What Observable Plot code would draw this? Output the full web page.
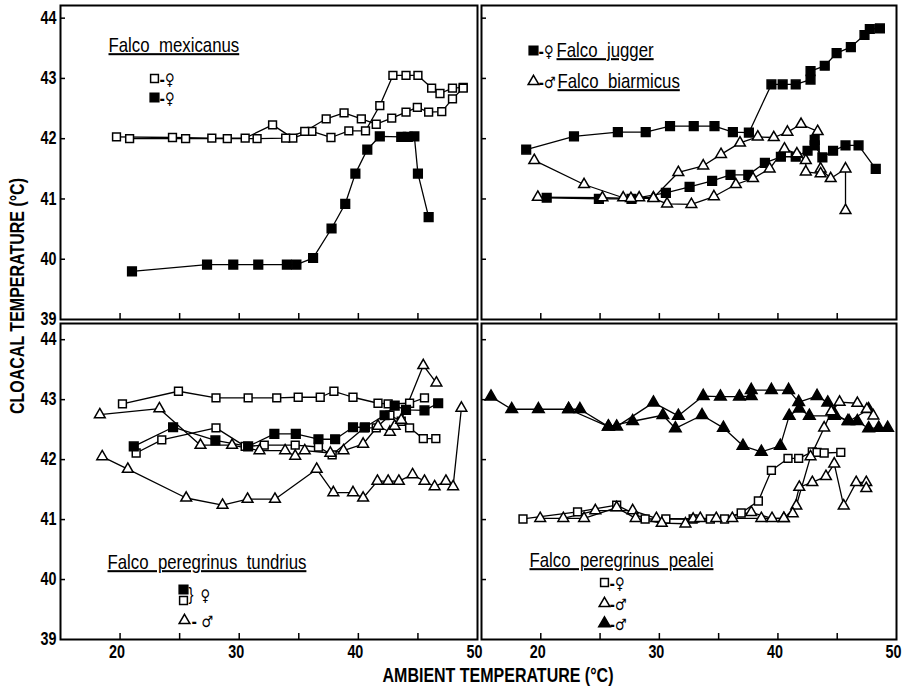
<!DOCTYPE html>
<html>
<head>
<meta charset="utf-8">
<script src="https://cdn.jsdelivr.net/npm/d3@7"></script>
<script src="https://cdn.jsdelivr.net/npm/@observablehq/plot@0.6"></script>
<style>
  html, body { margin: 0; padding: 0; background: white; }
  #chart { position: relative; width: 903px; height: 686px; background: white; overflow: hidden; }
  #chart svg { position: absolute; overflow: visible; }
  .title { position: absolute; white-space: nowrap; font-family: "Liberation Sans", Arial, sans-serif; font-weight: bold; font-size: 20px; color: black; }
</style>
</head>
<body>
<div id="chart"></div>
<script>
// ---------- data (ambient °C, cloacal °C) ----------
// Falco mexicanus
const mexOpenA = [[19.7,42.03],[24.4,42.02],[27.7,42.01],[30.5,42.01],[32.8,42.23],[34.5,42.01],[36.1,42.12],[37.7,42.02],[39.2,42.13],[40.6,42.13],[41.8,42.55],[42.9,43.05],[44.0,43.05],[45.0,43.05],[46.15,42.84],[46.85,42.75],[47.9,42.84],[48.8,42.85]];
const mexOpenB = [[20.8,42.0],[25.5,42.0],[29.0,42.0],[31.5,42.0],[33.9,42.01],[35.5,42.12],[37.3,42.33],[38.8,42.43],[40.25,42.33],[41.5,42.24],[42.8,42.34],[44.0,42.44],[44.95,42.52],[45.9,42.44],[47.0,42.45],[47.9,42.66],[48.8,42.84]];
const mexFilled = [[21.0,39.8],[27.3,39.91],[29.5,39.91],[31.6,39.91],[34.0,39.91],[34.8,39.91],[36.2,40.02],[37.75,40.51],[38.9,40.92],[39.75,41.42],[40.75,41.82],[41.8,42.04],[43.6,42.03],[44.15,42.03],[44.7,42.04],[45.0,41.42],[45.9,40.70]];
// Falco jugger / Falco biarmicus
const juggerA = [[18.77,41.82],[22.8,42.04],[26.5,42.11],[28.85,42.11],[30.9,42.21],[32.9,42.21],[34.65,42.21],[36.2,42.11],[37.55,42.10],[39.45,42.90],[40.4,42.90],[41.5,42.90],[42.75,42.98],[42.75,43.12],[43.95,43.21],[44.95,43.42],[46.15,43.52],[47.3,43.72],[47.75,43.82],[48.6,43.83]];
const juggerB = [[20.5,41.02],[24.9,41.0],[27.65,41.0],[30.55,41.10],[32.55,41.20],[34.45,41.30],[36.0,41.40],[37.5,41.40],[38.9,41.60],[40.25,41.70],[41.5,41.70],[42.5,41.80],[43.1,41.98],[43.1,41.89],[43.75,41.69],[44.65,41.80],[45.7,41.89],[46.8,41.89],[48.25,41.50]];
const biarmA = [[19.45,41.64],[23.65,41.24],[26.95,41.02],[28.3,41.02],[29.5,41.02],[31.6,41.44],[33.7,41.55],[35.2,41.74],[36.8,41.93],[38.3,42.03],[39.65,42.02],[40.8,42.11],[41.95,42.24],[43.35,42.12],[43.6,41.50],[44.45,41.34],[45.7,41.50],[45.7,40.81]];
const biarmB = [[19.75,41.03],[25.2,41.02],[27.6,41.01],[29.5,41.01],[30.65,40.92],[32.7,40.91],[34.6,41.04],[36.45,41.24],[37.9,41.34],[39.3,41.50],[40.55,41.83],[41.6,41.75],[42.35,41.64],[42.35,41.45],[43.6,41.42]];
// Falco peregrinus tundrius
const tunOpenA = [[20.2,42.93],[24.9,43.14],[28.05,43.03],[30.75,43.03],[33.15,43.03],[34.95,43.04],[36.8,43.04],[37.95,43.14],[39.55,43.04],[41.65,42.94],[42.5,42.93],[44.3,42.94],[45.55,43.03]];
const tunOpenB = [[21.35,42.11],[23.5,42.33],[28.05,42.53],[30.5,42.22],[32.1,42.24],[34.7,42.24],[36.65,42.21],[37.8,42.08],[40.5,42.53],[41.5,42.53],[42.65,42.74],[43.6,42.64],[44.3,42.53],[45.45,42.35],[46.5,42.35]];
const tunFilled = [[21.15,42.22],[24.45,42.54],[28.0,42.32],[30.75,42.22],[32.95,42.43],[34.75,42.43],[36.65,42.34],[38.05,42.34],[39.55,42.54],[40.55,42.54],[42.2,42.74],[43.05,42.90],[44.0,42.83],[45.55,42.82],[46.7,42.94]];
const tunTriA = [[18.3,42.75],[23.3,42.85],[26.75,42.24],[29.4,42.24],[31.7,42.15],[33.85,42.15],[34.7,42.06],[35.5,42.15],[37.65,42.11],[38.75,42.15],[40.4,42.26],[41.65,42.56],[42.65,42.46],[43.05,42.56],[43.6,42.66],[45.45,43.57],[46.55,43.28]];
const tunTriB = [[18.5,42.05],[20.65,41.84],[25.55,41.36],[28.6,41.24],[30.7,41.34],[33.0,41.34],[36.5,41.84],[37.9,41.45],[39.55,41.45],[40.4,41.36],[41.6,41.64],[42.5,41.64],[43.4,41.64],[44.55,41.75],[45.55,41.64],[46.4,41.55],[47.35,41.64],[47.95,41.55],[48.65,42.86]];
// Falco peregrinus pealei
const peaOpenSq = [[18.5,41.01],[23.1,41.13],[26.4,41.24],[28.8,41.01],[30.55,41.01],[32.85,41.01],[34.3,41.01],[35.5,41.01],[36.9,41.11],[38.35,41.31],[39.45,41.82],[40.85,42.02],[41.75,42.02],[42.9,42.13],[43.3,42.12],[43.9,42.11],[45.3,42.12]];
const peaTriA = [[21.9,41.02],[24.6,41.15],[27.75,41.15],[29.75,41.02],[32.85,41.01],[34.8,41.02],[37.75,41.12],[39.5,41.02],[40.5,41.02],[41.55,41.23],[42.75,42.05],[43.9,42.53],[44.5,42.80],[45.2,42.96],[46.7,42.94],[47.5,42.84],[48.05,42.73]];
const peaTriB = [[19.95,41.02],[23.65,41.02],[26.4,41.2],[28.0,41.02],[30.2,40.94],[32.2,40.93],[33.45,41.02],[36.15,41.02],[38.6,41.02],[40.5,41.02],[41.25,41.10],[41.8,41.54],[42.9,41.62],[44.05,41.72],[44.75,41.93],[45.55,41.23],[46.6,41.62],[47.45,41.62],[47.45,41.52]];
const peaFillA = [[15.8,43.05],[17.55,42.84],[19.8,42.84],[22.35,42.84],[23.3,42.84],[25.7,42.55],[26.4,42.55],[29.5,42.95],[31.6,42.73],[33.7,43.06],[35.15,43.05],[36.75,43.05],[37.75,43.06],[37.75,43.16],[39.45,43.16],[40.9,43.16],[41.75,42.96],[43.3,43.06],[44.2,42.95],[44.75,42.77],[45.9,42.64],[46.7,42.64],[47.65,42.52],[48.5,42.53],[49.25,42.53]];
const peaFillB = [[22.35,42.84],[25.7,42.55],[27.75,42.64],[30.3,42.74],[31.35,42.52],[33.6,42.74],[35.4,42.53],[37.05,42.23],[38.6,42.13],[40.2,42.23],[40.95,42.73],[41.8,42.85],[42.65,42.73],[44.75,42.73],[46.0,42.64],[47.65,42.84]];

// ---------- tick values / labels ----------
const xTickMarks = [20, 25, 30, 35, 40, 45];
const xTickLabels = [20, 30, 40, 50];
const yTickMarks = [40, 41, 42, 43, 44];
const yTickLabels = [39, 40, 41, 42, 43, 44];
const xTitle = "AMBIENT TEMPERATURE (°C)";
const yTitle = "CLOACAL TEMPERATURE (°C)";
const female = "♀", male = "♂";

const FONT = '"Liberation Sans", Arial, sans-serif';
const SYMFONT = '"DejaVu Sans", sans-serif';
const NARROW = 0.82;
const SYM = {
  sqOpen:  {symbol: "square",   fill: "white", r: 4.4},
  sqFill:  {symbol: "square",   fill: "black", r: 4.9},
  triOpen: {symbol: "triangle", fill: "white", r: 4.0},
  triFill: {symbol: "triangle", fill: "black", r: 4.3}
};

function legendDot(kind, dx, dy) {
  const s = SYM[kind];
  return Plot.dot([0], {frameAnchor: "top-left", dx, dy, symbol: s.symbol, fill: s.fill, r: s.r, stroke: "black", strokeWidth: 1.5});
}
function legendText(str, dx, dy, size = 18, font = FONT, weight = "normal") {
  return Plot.text([str], {text: d => d, frameAnchor: "top-left", dx, dy, textAnchor: "start", lineAnchor: "middle", fontSize: size, fontFamily: font, fontWeight: weight, fill: "black"});
}
function sexText(str, dx, dy) {
  return legendText(str, dx, dy, 16, SYMFONT, "bold");
}

// condense every text horizontally around its own anchor point
function condense(svg) {
  svg.querySelectorAll("text").forEach(t => {
    const x = parseFloat(t.getAttribute("x")) || 0;
    const T = t.getAttribute("transform") || "";
    t.setAttribute("transform", `${T} translate(${x},0) scale(${NARROW},1) translate(${-x},0)`.trim());
    if (t.textContent.startsWith("Falco")) t.style.textDecoration = "underline";
  });
}

function panel(cfg) {
  const marks = [Plot.frame({stroke: "black", strokeWidth: 2})];
  for (const s of cfg.series) {
    marks.push(Plot.line(s.data, {x: d => d[0], y: d => d[1], stroke: "black", strokeWidth: 1.3}));
  }
  for (const s of cfg.series) {
    const k = SYM[s.kind];
    marks.push(Plot.dot(s.data, {x: d => d[0], y: d => d[1], symbol: k.symbol, fill: k.fill, r: k.r, stroke: "black", strokeWidth: 1.5}));
  }
  // inward ticks
  marks.push(Plot.axisY({ticks: yTickMarks, tickSize: 5, dx: 5, tickFormat: () => "", label: null, strokeWidth: 1.5}));
  marks.push(Plot.axisX({ticks: xTickMarks, tickSize: 6, dy: -6, tickFormat: () => "", label: null, strokeWidth: 1.5}));
  if (cfg.yLabels) {
    marks.push(Plot.axisY({ticks: yTickLabels, tickSize: 0, tickPadding: 4, tickFormat: d => String(d), label: null, fontSize: 17.5, fontWeight: "bold", fontFamily: FONT}));
  }
  if (cfg.xLabels) {
    marks.push(Plot.axisX({ticks: xTickLabels, tickSize: 0, tickPadding: 6, dx: -3, tickFormat: d => String(d), label: null, fontSize: 17.5, fontWeight: "bold", fontFamily: FONT}));
  }
  marks.push(...cfg.legend);
  const svg = Plot.plot({
    width: cfg.width, height: cfg.height,
    marginLeft: cfg.ml, marginRight: cfg.mr, marginTop: cfg.mt, marginBottom: cfg.mb,
    x: {domain: [15, 50]},
    y: {domain: cfg.yDomain},
    style: {background: "transparent", overflow: "visible", fontFamily: FONT, color: "black"},
    marks
  });
  svg.style.left = cfg.left + "px";
  svg.style.top = cfg.top + "px";
  condense(svg);
  document.getElementById("chart").appendChild(svg);
}

const topY = [39, 44.21], botY = [39, 44.27];

panel({
  left: 0, top: 0, width: 480, height: 322, ml: 60, mr: 3, mt: 5, mb: 3, yDomain: topY,
  yLabels: true, xLabels: false,
  series: [{data: mexOpenA, kind: "sqOpen"}, {data: mexOpenB, kind: "sqOpen"}, {data: mexFilled, kind: "sqFill"}],
  legend: [
    legendText("Falco  mexicanus", 48, 40, 20.5),
    legendDot("sqOpen", 94, 73), sexText("-" + female, 99, 74),
    legendDot("sqFill", 94, 92), sexText("-" + female, 99, 93)
  ]
});
panel({
  left: 478, top: 0, width: 425, height: 322, ml: 3, mr: 7, mt: 5, mb: 3, yDomain: topY,
  yLabels: false, xLabels: false,
  series: [{data: juggerA, kind: "sqFill"}, {data: juggerB, kind: "sqFill"}, {data: biarmA, kind: "triOpen"}, {data: biarmB, kind: "triOpen"}],
  legend: [
    legendDot("sqFill", 52, 45), sexText("-" + female, 57, 46), legendText("Falco  jugger", 75, 45, 20.5),
    legendDot("triOpen", 52, 76), sexText("-" + male, 57, 77), legendText("Falco  biarmicus", 76, 76, 20.5)
  ]
});
panel({
  left: 0, top: 322, width: 480, height: 364, ml: 60, mr: 3, mt: 1, mb: 47, yDomain: botY,
  yLabels: true, xLabels: true,
  series: [{data: tunOpenA, kind: "sqOpen"}, {data: tunOpenB, kind: "sqOpen"}, {data: tunFilled, kind: "sqFill"}, {data: tunTriA, kind: "triOpen"}, {data: tunTriB, kind: "triOpen"}],
  legend: [
    legendText("Falco  peregrinus  tundrius", 47, 239, 20.5),
    legendDot("sqFill", 123, 266), legendDot("sqOpen", 123, 277),
    legendText("}", 128, 271, 18), sexText(female, 140, 272),
    legendDot("triOpen", 124, 297), sexText("- " + male, 131, 298)
  ]
});
panel({
  left: 478, top: 322, width: 425, height: 364, ml: 3, mr: 7, mt: 1, mb: 47, yDomain: botY,
  yLabels: false, xLabels: true,
  series: [{data: peaFillA, kind: "triFill"}, {data: peaFillB, kind: "triFill"}, {data: peaOpenSq, kind: "sqOpen"}, {data: peaTriA, kind: "triOpen"}, {data: peaTriB, kind: "triOpen"}],
  legend: [
    legendText("Falco  peregrinus  pealei", 48, 237, 20.5),
    legendDot("sqOpen", 123, 259), sexText("-" + female, 128, 260),
    legendDot("triOpen", 123, 280), sexText("-" + male, 128, 281),
    legendDot("triFill", 123, 300), sexText("-" + male, 128, 301)
  ]
});

const chart = document.getElementById("chart");
const xt = document.createElement("div");
xt.className = "title"; xt.textContent = xTitle;
xt.style.left = "498px"; xt.style.top = "675px"; xt.style.transform = "translate(-50%,-50%) scaleX(0.8)";
chart.appendChild(xt);
const yt = document.createElement("div");
yt.className = "title"; yt.textContent = yTitle;
yt.style.left = "17px"; yt.style.top = "296px"; yt.style.transform = "translate(-50%,-50%) rotate(-90deg) scaleX(0.8)";
chart.appendChild(yt);
</script>
</body>
</html>
